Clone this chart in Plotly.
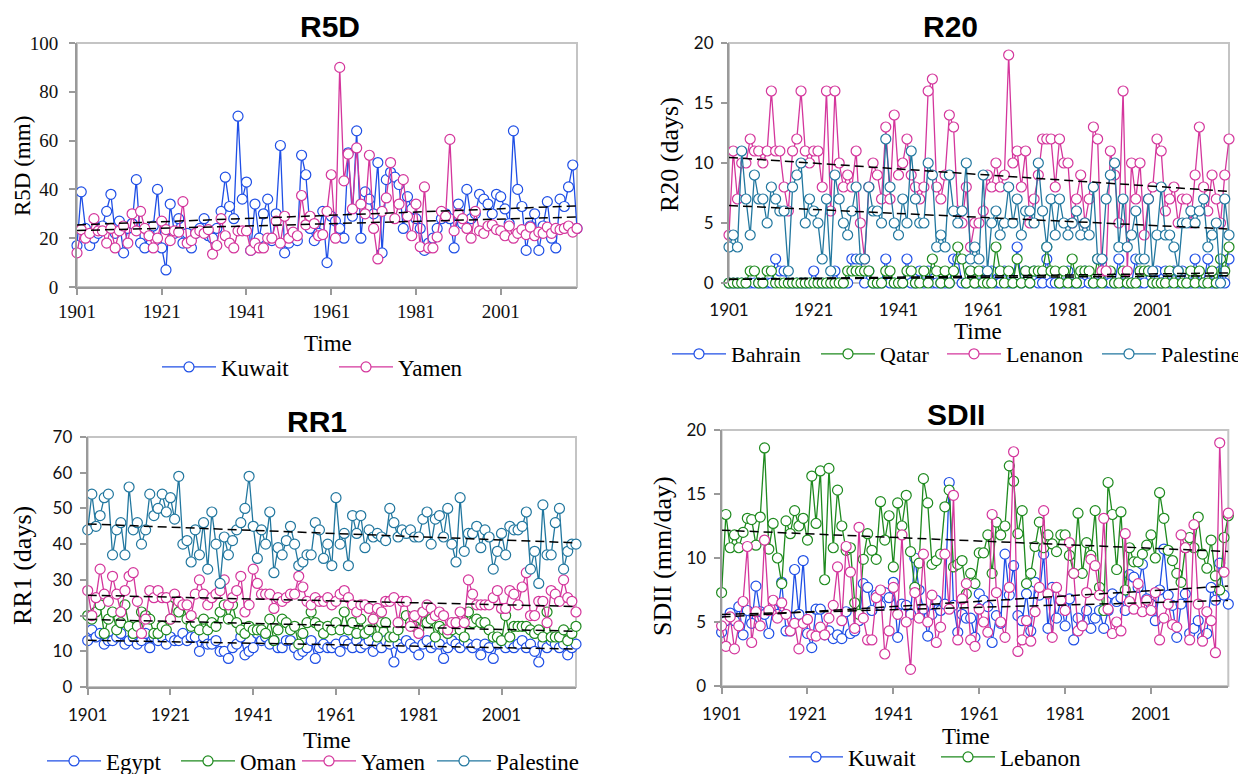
import numpy as np
import plotly.graph_objects as go

years = list(range(1901, 2020))
tick_years = [1901, 1921, 1941, 1961, 1981, 2001]

# ---------------- R5D (mm) ----------------
r5d_kuwait = [17,39,24,17,20,22,25,31,38,22, 27,14,24,26,44,18,16,22,25,40,
              16,7,34,22,28,18,22,16,22,24, 28,21,20,24,31,45,33,28,70,36,
              43,15,34,20,30,36,19,30,58,14, 18,22,19,54,46,24,19,22,31,10,
              29,27,24,20,55,29,64,20,39,36, 30,51,14,44,47,45,42,24,37,32,
              28,24,15,18,20,24,28,30,28,16, 34,26,40,28,30,38,36,34,30,38,
              37,32,26,64,40,33,15,25,30,15, 25,35,20,16,36,33,41,50,24]
r5d_yamen = [14,23.5,20,22,28,23,23,18,24,16, 23,25,18,30,23,31,24,21,16,20,
             27,23.5,19,23,22.5,35,18,19,22,23, 22,23.5,13.5,17,28,21,18,16,23,23,
             23,15,18,16,16,20,20,27,18,29, 20,22.5,21,37.5,25.5,29,26,21,21.5,31,
             46,20,90,43.5,54.5,32,57,34,30,54, 24,11.5,31,36.5,51,28,34,44,29,21,
             34,16.5,41,16,16,20.5,31,29,60.5,23, 30,28,24,20,31,23,22,25,25.5,23.5,
             23,21,25,20,22,23.5,21.5,24.5,21,22.5, 22,24.5,22,24,23.5,24,25,22.5,24]

# ---------------- R20 (days) ----------------
r20_bahrain = [0,0,0,0,0,0,0,0,0,0, 0,2,1,1,0,0,0,0,0,0, 1,0,0,0,0,1,0,0,0,2,
               2,2,0,1,0,0,0,2,0,0, 0,0,2,0,0,1,0,1,0,0, 0,0,0,2,2,0,0,1,0,0,
               1,0,1,0,0,1,0,0,3,0, 1,0,1,0,0,2,0,0,0,0, 1,0,0,0,1,0,0,0,2,0,
               0,0,2,0,0,0,2,0,0,1, 0,1,0,1,0,1,0,1,0,0, 2,0,0,2,0,0,1,0,2]
r20_qatar = [0,0,0,0,0,1,1,0,0,1, 1,0,0,0,0,0,0,0,0,0, 0,0,0,0,0,0,0,0,1,1,
             1,1,1,1,0,0,0,1,1,0, 0,0,1,1,0,0,1,0,2,1, 0,1,0,1,3,2,0,1,0,1,
             0,0,0,3,1,0,1,0,2,0, 1,0,1,1,1,3,1,1,0,1, 0,2,0,1,1,1,0,2,0,1,
             1,0,0,1,0,0,0,1,1,1, 0,0,0,0,1,0,1,0,0,1, 0,1,0,0,1,0,2,1,3]
r20_lebanon = [4,11,7,10,10,12,11,11,10,11, 16,11,11,8,6,11,12,16,11,10,
               11,11,8,16,6,16,10,8,9,8, 11,5,2,8,10,9,7,13,7,14,
               9,10,12,9,8,7,8,16,17,8, 7,9,14,13,6,5,8,3,5,5,
               6,9,8,10,8,9,19,10,11,8, 11,5,7,9,12,12,12,8,12,10,
               10,5,7,9,5,7,13,12,1,1, 11,9,5,16,1,10,7,10,4,7,
               8,12,11,6,7,8,5,7,7,5, 9,13,8,6,9,7,5,9,12]
r20_palestine = [3,4,3,11,7,4,9,7,7,5, 8,7,6,6,1,8,9,10,5,7,
                 6,5,2,7,1,9,7,5,4,6, 8,2,2,8,6,6,5,12,8,5,
                 4,7,5,11,7,5,5,10,9,3, 4,3,9,6,5,6,10,2,3,2,
                 9,1,5,6,4,5,8,5,7,4, 6,6,5,10,6,3,7,4,7,5,
                 4,5,6,4,5,4,8,2,2,7, 9,10,3,7,3,4,6,2,2,7,
                 1,4,8,4,4,3,1,5,5,6, 5,6,7,3,4,5,0,7,4]

# ---------------- RR1 (days) ----------------
rr1_egypt = [13,16,14,15,12,13,13,14,15,12, 13,14,12,13,15,11,14,13,14,12,
             14,13,13,15,13,14,14,10,14,12, 12,13,10,10,8,11,12,14,9,10,
             11,15,13,14,12,13,11,11,13,13, 11,9,10,11,13,8,11,12,11,11,
             12,10,13,12,11,13,11,12,13,10, 12,11,13,12,7,12,11,13,12,11,
             9,12,13,11,12,12,8,11,13,12, 11,13,12,11,12,9,12,11,8,12,
             13,11,12,11,12,13,11,12,10,7, 12,11,13,12,11,12,9,11,12]
rr1_oman = [20,19,21,23,15,19,21,16,18,23, 17,15,17,21,20,19,15,15,17,16,
            19,25,21,23,19,17,18,16,19,16, 18,17,21,23,19,23,18,16,15,17,
            16,16,16,15,19,13,16,19,18,16, 17,12,15,18,21,18,17,15,17,16,
            18,16,21,16,18,15,19,15,16,19, 14,18,18,14,14,16,18,20,18,17,
            16,21,18,19,14,17,16,15,16,18, 16,14,21,18,19,18,18,16,14,14,
            13,20,14,17,17,17,17,16,15,16, 14,21,14,14,14,16,13,15,17]
rr1_yamen = [27,20,25,33,26,24,31,26,21,27, 31,32,24,15,19,27,25,27,25,25,
             19,26,24,23,23,20,26,30,26,23, 25,26,27,30,23,25,27,31,21,23,
             33,29,26,26,26,22,25,24,25,26, 26,31,28,24,23,25,24,24,25,23,
             24,26,27,25,23,21,23,23,22,19, 22,21,24,24,25,18,24,24,17,20,
             15,21,23,22,20,21,20,16,18,18, 21,18,30,26,23,23,23,23,25,27,
             22,22,27,26,23,28,32,20,20,24, 24,18,27,26,24,30,25,24,21]
rr1_palestine = [44,54,45,48,53,54,37,44,46,37, 56,44,46,40,44,54,48,50,54,49,
                 53,47,59,40,41,35,44,37,46,33, 49,40,29,42,37,41,44,46,50,59,
                 45,36,44,40,49,32,39,37,41,45, 40,34,35,37,37,46,44,36,40,34,
                 53,40,43,34,48,43,48,39,44,42, 43,42,41,50,46,42,44,43,44,42,
                 42,47,49,40,47,48,42,50,40,35, 53,38,43,43,45,39,44,42,33,38,
                 43,37,45,44,44,45,49,33,38,29, 51,37,37,46,50,33,38,40,40]

# ---------------- SDII (mm/day) ----------------
sdii_kuwait = [4.2,5.1,5.7,5.1,6.2,4,5.9,4.9,7.8,5.8, 5.6,4.1,6,5.6,8.1,4.3,4.3,9.1,5.6,9.8,
               4.1,3,6,6,4,4.3,3.7,4,3.7,5.8, 4.1,4.3,5.1,8,7.7,5.9,7.1,6.3,7.3,6.9,
               8.1,3.8,6.4,6.3,5.6,10,7.5,6,3.9,5.6, 6.7,5.9,6.4,15.9,6.3,4.2,5.6,5.3,5.3,3.8,
               7.2,6.7,6.2,3.4,5.5,4.9,10.3,7.1,9.4,5.5, 5.1,7.2,4.3,8.1,7.1,10.3,4.5,7.7,5.3,6.7,
               4.7,6.8,3.6,5.3,4.7,5.9,4.5,5.3,5.9,4.5, 5.9,7.2,6.6,6.9,5.9,8.7,8.5,7.7,9.5,6.8,
               6.4,5.1,7.5,10.7,7.1,6.3,3.8,6.4,7.2,4.1, 4.5,5.1,3.8,4.1,7.7,6.7,9.6,7.1,6.4]
sdii_lebanon = [7.3,13.4,10.8,11.8,10.8,12,13.1,13,11,13.2, 18.6,10.7,12.7,10,8,12.9,11.9,13.7,12.5,13.1,
                11.4,16.4,12.7,16.8,8.3,17,10.8,15.3,12.5,10.6, 10.8,6.5,5.6,9.9,11.9,10.6,9.9,14.4,11.4,13.3,
                9.3,14.3,12.5,14.9,10.5,7.7,9.6,16.2,14.3,9.5, 9.8,10.3,14,15.3,9.3,9.5,9.8,7.2,8.8,8,
                10.4,10.4,11.8,8.8,12.8,11.8,12.5,17.2,16,11.9, 13.7,8,8.8,10.9,12.8,10.8,11.8,11.1,10.5,11.8,
                11.8,10.2,8.8,13.5,8.8,11.2,10.2,13.7,7.7,5.9, 15.9,13.4,9.1,13.6,7.5,10.8,9.7,9.7,10.3,11,
                11.8,10,15.1,13.1,10.6,9.8,8.8,8.1,10.8,11.6, 10.8,13.2,10.3,9.2,11.4,8.6,7.5,11.6,13.3]
sdii_third = [4.7,3.1,5.4,2.9,4.7,6.6,10.9,3.4,5.8,4.7, 11.4,5.9,6.7,5.3,6.5,5.6,4.3,4.9,2.9,4.9,
              5.2,4,3.9,4.6,4,5.3,6.3,9.3,5.1,10.9, 8.9,4.5,12.4,5.3,3.6,3.6,6.9,7.5,2.5,4.3,
              7.7,5.6,11.8,5,1.3,7.3,5.3,10.3,5,7.1, 3.4,4.6,10.3,6,14.9,3.6,6.8,8,3.6,3.1,
              6.0,5.0,4.2,13.4,7.3,5.0,3.8,7.7,18.3,2.7, 3.6,5.1,3.5,5.8,7.7,13.7,7.2,3.8,7.7,6.7,
              5.9,11.2,8.8,4.3,4.7,7.3,9.9,9.4,7.1,13.1, 6.0,4.1,5.0,4.3,11.9,6.6,6.0,8.0,5.8,6.7,
              5.9,7.3,3.6,5.3,6.4,4.8,4.6,11.8,10.8,3.6, 12.6,6.4,3.5,5.8,5.1,2.6,19,8.9,13.5]

BLUE = "#1f4fe6"
PINK = "#d4369c"
GREEN = "#1e8a1e"
TEAL = "#22779f"

SERIF = "Liberation Serif"
SANS = "Lato"

# the page body has an 8px margin: the figure fills the rest of the window
OFF = 8
W, H = 1246 - OFF, 774 - OFF
fig = go.Figure()


def px_x(v):
    return (v - OFF) / W


def px_y(v):
    return 1 - (v - OFF) / H


def ax(n, kind):
    return kind + (str(n) if n > 1 else "")


legend_defs = {}
leg_count = [0]


def new_legend(x, y, size):
    leg_count[0] += 1
    name = "legend" if leg_count[0] == 1 else "legend%d" % leg_count[0]
    legend_defs[name] = dict(
        x=px_x(x), y=px_y(y), xref="container", yref="container",
        xanchor="left", yanchor="middle", orientation="h",
        itemwidth=54, bgcolor="rgba(0,0,0,0)", borderwidth=0,
        font=dict(family=SERIF, size=size, color="black"),
        itemclick=False, itemdoubleclick=False)
    return name


def add_series(n, name, vals, color, leg=None):
    fig.add_trace(go.Scatter(
        x=years, y=vals, mode="lines+markers", name=name,
        line=dict(color=color, width=1.3),
        marker=dict(symbol="circle", size=10, color="white",
                    line=dict(color=color, width=1.2)),
        xaxis=ax(n, "x"), yaxis=ax(n, "y"),
        legend=new_legend(*leg) if leg else "legend",
        showlegend=leg is not None, cliponaxis=False))


def add_trend(n, vals):
    k, b = np.polyfit(years, vals, 1)
    xs = [years[0], years[-1]]
    fig.add_trace(go.Scatter(
        x=xs, y=[k * x + b for x in xs], mode="lines",
        line=dict(color="black", width=1.5, dash="9px,5px"),
        xaxis=ax(n, "x"), yaxis=ax(n, "y"),
        showlegend=False, hoverinfo="skip", cliponaxis=False))


LX = -6  # legend box left edge relative to start of the legend line
# panel 1 R5D
add_series(1, "Kuwait", r5d_kuwait, BLUE, (163 + LX, 367, 23))
add_series(1, "Yamen", r5d_yamen, PINK, (340 + LX, 367, 23))
for v in (r5d_kuwait, r5d_yamen):
    add_trend(1, v)
# panel 2 R20
add_series(2, "Bahrain", r20_bahrain, BLUE, (673 + LX, 354, 22))
add_series(2, "Qatar", r20_qatar, GREEN, (822 + LX, 354, 22))
add_series(2, "Lenanon", r20_lebanon, PINK, (948 + LX, 354, 22))
add_series(2, "Palestine", r20_palestine, TEAL, (1103 + LX, 354, 22))
for v in (r20_bahrain, r20_qatar, r20_lebanon, r20_palestine):
    add_trend(2, v)
# panel 3 RR1
add_series(3, "Egypt", rr1_egypt, BLUE, (48 + LX, 761, 23))
add_series(3, "Oman", rr1_oman, GREEN, (182 + LX, 761, 23))
add_series(3, "Yamen", rr1_yamen, PINK, (303 + LX, 761, 23))
add_series(3, "Palestine", rr1_palestine, TEAL, (438 + LX, 761, 23))
for v in (rr1_egypt, rr1_oman, rr1_yamen, rr1_palestine):
    add_trend(3, v)
# panel 4 SDII
add_series(4, "Kuwait", sdii_kuwait, BLUE, (790 + LX, 757, 23))
add_series(4, "Lebanon", sdii_lebanon, GREEN, (942 + LX, 757, 23))
add_series(4, "Series 3", sdii_third, PINK)
for v in (sdii_kuwait, sdii_lebanon, sdii_third):
    add_trend(4, v)

panels = {
    1: dict(x=(77, 577), y=(43, 287), yr=[0, 100], dt=20, tickfont=SERIF, tfs=19,
            xline=True, xso=0, yso=7),
    2: dict(x=(729, 1229), y=(43, 283), yr=[0, 20], dt=5, tickfont=SANS, tfs=17,
            xline=False, xso=15, yso=4),
    3: dict(x=(87.7, 576), y=(437, 687), yr=[0, 70], dt=10, tickfont=SANS, tfs=17,
            xline=True, xso=6, yso=4),
    4: dict(x=(721.6, 1228.3), y=(430, 686), yr=[0, 20], dt=5, tickfont=SANS, tfs=17,
            xline=True, xso=6, yso=4),
}

layout_axes = {}
shapes = []
for n, p in panels.items():
    sfx = str(n) if n > 1 else ""
    layout_axes["xaxis" + sfx] = dict(
        domain=[px_x(p["x"][0]), px_x(p["x"][1])], anchor="y" + sfx,
        range=[1901, 2019], tickvals=tick_years, ticktext=[str(t) for t in tick_years],
        ticks="outside" if p["xline"] else "", ticklen=6, tickcolor="#9a9a9a", tickwidth=1.5,
        showline=p["xline"], linecolor="#9a9a9a", linewidth=2,
        showgrid=False, zeroline=False, automargin=False,
        tickfont=dict(family=p["tickfont"], size=p["tfs"], color="#111"),
        ticklabelstandoff=p["xso"])
    layout_axes["yaxis" + sfx] = dict(
        domain=[px_y(p["y"][1]), px_y(p["y"][0])], anchor="x" + sfx,
        range=p["yr"], dtick=p["dt"],
        ticks="outside", ticklen=6, tickcolor="#9a9a9a", tickwidth=1.5,
        showline=True, linecolor="#9a9a9a", linewidth=2,
        showgrid=False, zeroline=False, automargin=False,
        tickfont=dict(family=p["tickfont"], size=p["tfs"], color="#111"),
        ticklabelstandoff=p["yso"])
    shapes.append(dict(type="rect", xref="x%s domain" % sfx, yref="y%s domain" % sfx,
                       x0=0, x1=1, y0=0, y1=1, line=dict(color="#c4c4c4", width=2),
                       layer="below"))

ann = []


def add_text(text, x, y, size, family, bold=False, angle=0):
    ann.append(dict(text="<b>%s</b>" % text if bold else text, x=px_x(x), y=px_y(y),
                    xref="paper", yref="paper", showarrow=False, textangle=angle,
                    xanchor="center", yanchor="middle",
                    font=dict(family=family, size=size, color="black")))


TITLEF = "Liberation Sans"
add_text("R5D", 330, 27, 30, TITLEF, bold=True)
add_text("R20", 950, 27, 30, TITLEF, bold=True)
add_text("RR1", 317, 421, 30, TITLEF, bold=True)
add_text("SDII", 956, 414, 30, TITLEF, bold=True)

add_text("Time", 328, 343, 23, SERIF)
add_text("Time", 978, 331, 23, SERIF)
add_text("Time", 327, 740, 23, SERIF)
add_text("Time", 966, 736, 23, SERIF)

add_text("R5D (mm)", 22, 166, 23, SERIF, angle=-90)
add_text("R20 (days)", 669, 155, 26, SERIF, angle=-90)
add_text("RR1 (days)", 22, 566, 26, SERIF, angle=-90)
add_text("SDII (mm/day)", 662, 556, 26, SERIF, angle=-90)

fig.update_layout(
    width=W, height=H, margin=dict(l=0, r=0, t=0, b=0, autoexpand=False),
    paper_bgcolor="white", plot_bgcolor="white",
    showlegend=True,
    annotations=ann, shapes=shapes,
    **legend_defs,
    **layout_axes)

fig.write_html("out.html")
